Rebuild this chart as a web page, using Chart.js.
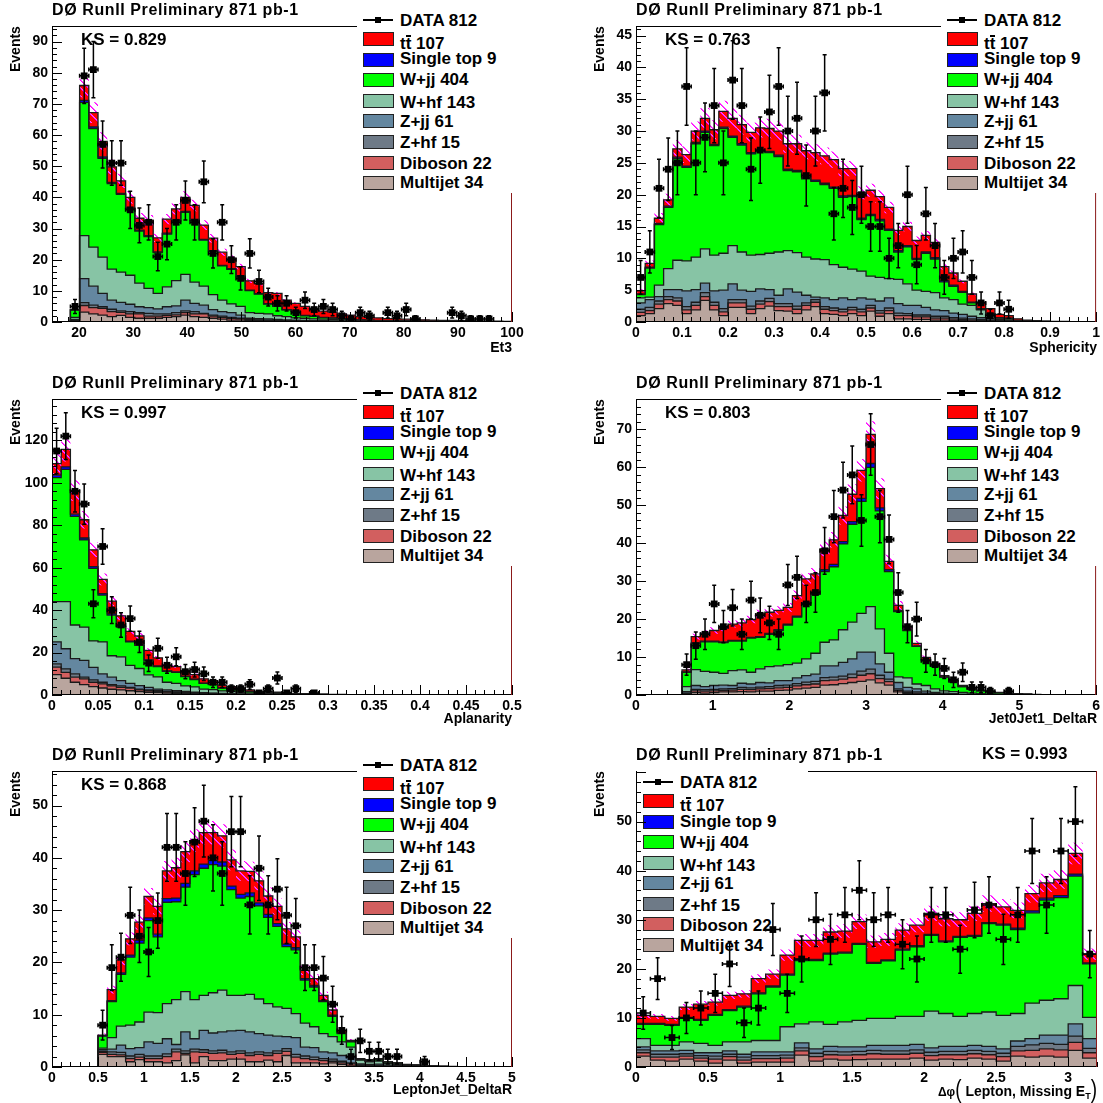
<!DOCTYPE html>
<html>
<head>
<meta charset="utf-8">
<title>DØ RunII Preliminary 871 pb-1</title>
<script src="https://cdn.jsdelivr.net/npm/chart.js@4.4.1/dist/chart.umd.min.js"></script>
<style>
  html, body { margin: 0; padding: 0; background: #fff; }
  body { width: 1103px; height: 1103px; position: relative; overflow: hidden;
         font-family: "Liberation Sans", Arial, Helvetica, sans-serif; font-weight: bold; color: #000; }
  .pad { position: absolute; height: 367px; }
  .pad canvas { position: absolute; left: 0; top: 0; z-index: 1; }
  .txt { position: absolute; white-space: nowrap; line-height: 1; z-index: 2; }
  .title { font-size: 16px; letter-spacing: 0.6px; }
  .ks { font-size: 17px; }
  .ytitle { font-size: 14px; transform: rotate(-90deg); transform-origin: left top; }
  .xtitle { font-size: 14px; }
  .legend { position: absolute; background: #fff; z-index: 3; }
  .legend.under { z-index: 0; }
  .swatch { position: absolute; box-sizing: border-box; width: 31px; height: 14px; border: 1px solid #222; }
  .ltext { position: absolute; font-size: 17px; line-height: 1; white-space: nowrap; }
  .dline { position: absolute; width: 30px; height: 1.5px; background: #000; }
  .dmark { position: absolute; width: 6px; height: 6px; background: #000; }
  .tbar { position: relative; display: inline-block; }
  .tbar::before { content: ""; position: absolute; left: 0; right: 0; top: 0; height: 2px; background: #000; }
  .paren { font-size: 19px; font-weight: normal; display: inline-block; transform: scaleY(1.35); }
  .dphi { font-size: 12px; }
  sub { font-size: 9px; vertical-align: -3px; }
</style>
</head>
<body>
<script>
// ---- samples (legend order, top of the stack first) ----
const SAMPLE_NAMES = ['tt̄', 'Single top', 'W+jj', 'W+hf', 'Z+jj', 'Z+hf', 'Diboson', 'Multijet'];
const SAMPLE_COUNTS = [107, 9, 404, 143, 61, 15, 22, 34];
const SAMPLE_COLORS = ['#ff0000', '#0000ff', '#00ff00', '#87c4a5', '#6487a0', '#6e7a87', '#d25f5f', '#b9a59e'];
const DATA_COUNT = 812;
const KS_VALUES = [0.829, 0.763, 0.997, 0.803, 0.868, 0.993];
const SYST = 0.05; // relative MC uncertainty, drawn as the hatched band

// Each *_TTBAR ... *_MULTIJET array is the height of the stack up to and
// including that sample (so *_TTBAR is the total prediction).

// ---- Et3 : 50 bins, 15..100 ----
const ET3_DATA = [0,0,5,79,81,57,51,51,36,31, 32,21,25,32,39,32,45,22,32,20, 14,22,13,8,6,6,3,7,4,5, 4,2,1,3,2,0,3,2,4,1, 0,0,0,3,2,1,1,1,0,0];
const ET3_TTBAR = [0,0,4,75.9,67.2,58,49.8,45.3,40,33.3, 32.7,27,33,36.3,40,37.4,31.1,26.9,22.4,20.5, 17.8,13.2,12.3,9.4,9.2,7,6,5,4.4,3.5, 3.2,2.6,2.2,1.7,1.5,1.3,1.1,1,0.9,0.8, 0.7,0.6,0.5,0.5,0.4,0.4,0.3,0.3,0.3,0.2];
const ET3_STOP = [0,0,3.9,71.1,62.6,53,44.8,41.3,36.5,29.5, 27.7,22.5,28.5,32.8,35.5,32.9,26.5,22.9,18.2,17.1, 14.8,10.2,9.1,5.9,5.2,4,3.5,2.1,1.9,1.5, 1.3,1.1,0.9,0.7,0.6,0.5,0.4,0.4,0.4,0.3, 0.3,0.25,0.2,0.2,0.15,0.15,0.1,0.1,0.1,0.05];
const ET3_WJJ = [0,0,3.85,70.5,62.1,52.55,44.4,40.95,36.2,29.2, 27.4,22.25,28.2,32.5,35.2,32.6,26.25,22.65,18,16.9, 14.6,10.05,8.95,5.75,5.05,3.9,3.4,2,1.8,1.4, 1.22,1.04,0.85,0.65,0.56,0.46,0.37,0.37,0.37,0.28, 0.28,0.23,0.18,0.18,0.13,0.13,0.08,0.08,0.08,0.04];
const ET3_WHF = [0,0,1.5,27.7,24,20.8,17,16,15,12.5, 10.8,9.2,11.3,13.3,15.3,12.8,11.5,8.8,7,5.8, 5,3,2.8,2.6,2,1.7,1.3,1.2,1,0.9, 0.8,0.7,0.6,0.5,0.45,0.4,0.35,0.3,0.3,0.25, 0.2,0.2,0.15,0.15,0.1,0.1,0.07,0.07,0.07,0.03];
const ET3_ZJJ = [0,0,0.8,13.9,11.5,9.2,7,6.3,5.7,4.9, 4.6,4.2,4.9,5.2,7,6,5.4,4,3.3,3, 2.2,1.2,1.1,1,0.8,0.7,0.6,0.5,0.4,0.4, 0.3,0.3,0.3,0.2,0.2,0.2,0.15,0.12,0.12,0.1, 0.1,0.08,0.08,0.06,0.05,0.05,0.04,0.04,0.04,0.02];
const ET3_ZHF = [0,0,0.5,6.2,5.4,4.9,4.1,3.6,3.3,3, 2.8,2.6,2.6,3,3.6,3.3,2.8,2.2,1.9,1.5, 1.2,0.8,0.7,0.6,0.5,0.45,0.4,0.35,0.3,0.3, 0.25,0.2,0.2,0.15,0.15,0.15,0.1,0.1,0.1,0.08, 0.06,0.05,0.05,0.04,0.03,0.03,0.02,0.02,0.02,0.01];
const ET3_DIBOSON = [0,0,0.4,5.3,4.6,4.4,3.3,3.1,2.6,2.6, 1.9,1.9,2.1,2.3,3,2.6,2.6,1.9,1.5,1.2, 1,0.7,0.6,0.5,0.45,0.4,0.35,0.3,0.25,0.25, 0.2,0.2,0.15,0.15,0.1,0.1,0.1,0.08,0.08,0.06, 0.05,0.04,0.04,0.03,0.02,0.02,0.01,0.01,0.01,0.01];
const ET3_MULTIJET = [0,0,0.2,3.2,2.6,2.2,1.7,2.1,1.5,1.2, 1.2,1.2,1.5,1.7,2.2,1.7,1.5,1.2,0.9,0.6, 0.6,0.4,0.4,0.3,0.3,0.3,0.2,0.2,0.15,0.15, 0.1,0.1,0.1,0.08,0.06,0.05,0.05,0.04,0.04,0.03];

// ---- Sphericity : 50 bins, 0..1 ----
const SPH_DATA = [7,11,21,24,25,37,25,29,34,25, 38,34,24,27,33,37,30,32,23,30, 36,17,21,18,20,15,15,10,12,20, 9,17,12,7,10,11,7,3,1,3, 2,0,0,0,0,0,0,0,0,0];
const SPH_TTBAR = [4.9,9.2,16.3,19.2,27.2,26.3,30,32,30.2,33.1, 32,31,29.8,30.5,30.4,30,28,28,26.9,26.6, 26.1,25.5,24.1,24.1,20.3,20.7,19.7,18,14.4,15, 12.8,13.6,12.5,8.7,7.7,6.4,4.4,3.1,2.1,1.2, 1,0.5,0.3,0.2,0.15,0.1,0.1,0.05,0.05,0.05];
const SPH_STOP = [4.4,8.6,15.5,18.2,25.9,24.5,28.2,30,27.9,30.6, 29.2,28,26.6,27,26.8,26.2,24,23.8,22.7,22.3, 21.8,21.2,19.8,19.9,16.3,16.9,16.1,14.6,11.2,12, 10,11,10.1,6.5,5.8,4.8,3.1,2.1,1.3,0.7, 0.6,0.25,0.15,0.1,0.1,0.05,0.05,0.03,0.03,0.03];
const SPH_WJJ = [4.3,8.45,15.3,18,25.7,24.3,28,29.8,27.7,30.4, 29,27.8,26.4,26.8,26.6,26,23.8,23.6,22.5,22.1, 21.6,21,19.6,19.7,16.1,16.7,15.9,14.4,11,11.8, 9.8,10.8,9.9,6.3,5.6,4.65,3,2,1.25,0.65, 0.55,0.22,0.12,0.08,0.08,0.04,0.04,0.02,0.02,0.02];
const SPH_WHF = [3.8,3.9,5.8,8.4,9.7,9.6,10.2,11.5,10.5,10.8, 12,11,10.5,10.6,10.8,11,11.2,10.9,10.2,9.9, 9.8,9,8.6,8.3,8,7.2,7,6.8,6.7,6, 5,4.8,4.6,3.8,3.5,2.8,2.6,1.9,1.1,0.6, 0.45,0.2,0.12,0.08,0.06,0.04,0.04,0.02,0.02,0.02];
const SPH_ZJJ = [3,3.5,4,5.1,5.1,4.9,5.1,6.1,4.9,5, 6,5,4.8,5.2,5.1,4.2,5.2,4.7,4.2,3.9, 3.8,3.5,3.8,3.5,3.8,3.6,3.3,3.8,2.9,2.6, 2.6,2.3,1.9,1.8,1.4,1.2,0.9,0.7,0.5,0.35, 0.25,0.15,0.1,0.07,0.05,0.04,0.04,0.02,0.02,0.02];
const SPH_ZHF = [2,2.3,3.3,4,3.8,2.4,3.1,4.6,3.1,2.1, 3.5,3.5,2.5,3.3,3.7,2.9,2.9,2.5,3,3.5, 2.4,2.2,2,2.3,2,2.6,1.8,2.2,1.4,1.3, 1.1,1.1,0.9,0.9,0.7,0.6,0.5,0.4,0.3,0.25, 0.15,0.1,0.05];
const SPH_DIBOSON = [1.5,1.8,2.8,3.5,3.3,1.9,2.6,4,2.6,1.6, 3,3,2,2.8,3.2,2.4,2.4,2,2.6,3.1, 2,1.8,1.6,1.9,1.6,2.2,1.4,1.8,1,1, 0.8,0.8,0.6,0.6,0.45,0.4,0.3,0.25,0.2,0.15, 0.1,0.05];
const SPH_MULTIJET = [1,1.3,2.1,2.9,2.6,1.3,1.9,3.4,1.9,1, 2.3,2.3,1.3,2.1,2.5,1.8,1.7,1.3,1.9,2.4, 1.3,1.2,1,1.3,1,1.7,0.9,1.3,0.5,0.5, 0.4,0.4,0.3,0.3,0.2,0.2,0.15,0.1,0.1,0.1, 0.05];

// ---- Aplanarity : 50 bins, 0..0.5 ----
const APL_DATA = [115,122,96,90,43,70,40,33,36,25, 15,22,14,18,11,12,10,6,6,3, 3,5,1,3,8,1,3,0,1,0];
const APL_TTBAR = [109,115.8,96.4,82.6,68.4,54.5,44.2,37.3,30,27.8, 21,17.5,13.9,13.4,11.5,9.6,7.6,6.8,4.7,3.9, 3.3,2.4,1.7,1.7,1.3,1.1,0.8,0.6,0.5,0.4, 0.3,0.25,0.2,0.15,0.12,0.1,0.08,0.06,0.05,0.04, 0.03];
const APL_STOP = [103.6,107.5,85.2,74,60.5,47.8,38.2,32.5,25.4,23.8, 16.6,13.7,11.4,10.9,8.9,7.45,5.6,5,3.38,2.86, 2.45,1.74,1.33,1.33,0.92,0.82,0.57,0.42,0.36,0.29, 0.21,0.18,0.15,0.11,0.09,0.08,0.06,0.05,0.04,0.03];
const APL_WJJ = [102.4,106.3,84.2,73.1,59.7,47.1,37.6,32,25,23.4, 16.3,13.4,11.2,10.7,8.7,7.3,5.5,4.9,3.3,2.8, 2.4,1.7,1.3,1.3,0.9,0.8,0.55,0.4,0.35,0.28, 0.2,0.17,0.14,0.1,0.08,0.07,0.05,0.04,0.03,0.02];
const APL_WHF = [44,44,33,32,25.5,25,18.5,18,14,12.5, 9.5,8.5,6,5.5,4.3,3.8,2.8,2.5,1.9,1.6, 1.2,1,0.8,0.7,0.5,0.4,0.3,0.25,0.2,0.15, 0.1,0.08,0.06,0.05,0.04,0.03,0.02];
const APL_ZJJ = [25,21.8,17.1,16.3,13,10,8.4,6.8,5.5,4.4, 3.6,2.8,2.4,2,1.7,1.4,1.1,0.9,0.8,0.6, 0.5,0.4,0.3,0.25,0.2,0.15,0.1,0.08,0.06,0.05, 0.04,0.03,0.02];
const APL_ZHF = [14.7,12.3,10,8.4,7.1,6,4.9,4.3,3.6,2.8, 2.4,2,1.7,1.5,1.3,1.1,0.9,0.7,0.6,0.5, 0.4,0.3,0.25,0.2,0.15,0.1,0.08,0.06,0.05,0.04, 0.03,0.02];
const APL_DIBOSON = [13.1,10.7,8.4,7.6,6,5.2,4.3,3.6,3.2,2.4, 2,1.7,1.4,1.2,1,0.8,0.7,0.5,0.45,0.4, 0.3,0.25,0.2,0.15,0.12,0.08,0.06,0.05,0.04,0.03, 0.02];
const APL_MULTIJET = [9.6,7.9,6,4.9,3.9,3.3,2.7,2.4,2,1.6, 1.3,1.1,0.9,0.7,0.6,0.5,0.4,0.3,0.25,0.2, 0.15,0.12,0.1,0.08,0.06,0.05,0.04,0.03,0.02];

// ---- Jet0Jet1_DeltaR : 50 bins, 0..6 ----
const JJDR_DATA = [0,0,0,0,0,8,13,16,24,18, 23,16,25,21,19,16,29,31,24,27, 38,47,54,58,46,66,47,41,27,18, 20,9,8,7,4,6,2,2,1,0, 1];
const JJDR_TTBAR = [0,0,0,0,0,6.6,15.4,16.3,17,17.7, 18.7,19,19.9,21.4,21.8,22.3,23.1,26.2,30.6,31.9, 38.5,40.9,47.3,52.9,59.2,68.7,54.4,35.2,23.6,18.1, 13.6,9.9,8.2,5.1,3.8,2.5,1.8,1.3,1,0.7, 0.5,0.35,0.25,0.15,0.1,0.05];
const JJDR_STOP = [0,0,0,0,0,6.1,13.7,14.2,14.2,14, 14.4,14.4,15.2,15.4,16.2,17.25,18.65,20.8,24.3,26.85, 33,34.4,40.4,45.7,51.8,61,49.3,33,22.3,17.2, 12.95,9.3,7.7,4.75,3.45,2.22,1.52,1.12,0.81,0.56, 0.4,0.28,0.2,0.12,0.08,0.04];
const JJDR_WJJ = [0,0,0,0,0,6,13.5,14,14,13.8, 14.2,14.2,15,15.2,16,17,18.4,20.5,24,26.5, 32.5,33.8,39.8,45,51,60,48.5,32.5,22,17, 12.8,9.2,7.6,4.7,3.4,2.2,1.5,1.1,0.8,0.55, 0.4,0.28,0.2,0.12,0.08,0.04];
const JJDR_WHF = [0,0,0,0,0,2.2,6.7,6.2,6,5.7, 6.4,6.6,6,6.9,7.5,7.7,8,8.4,9.5,11, 13.9,14.5,17.2,19.2,21.5,23.3,17.4,11,4.8,4.5, 2.9,2.5,1.6,1.1,0.9,0.7,0.5,0.35,0.25,0.15, 0.1,0.05];
const JJDR_ZJJ = [0,0,0,0,0,0.9,2.5,2.2,2.5,2.6, 2.5,3.1,2.9,3.3,3.2,3.8,3.8,4.5,5.1,5.5, 7.7,7.7,8.6,9.5,11.3,11.3,8.2,6,3.3,2, 1.6,1,0.7,0.5,0.35,0.25,0.15,0.1,0.05];
const JJDR_ZHF = [0,0,0,0,0,0.5,1.5,1.4,1.5,1.6, 1.7,2,1.9,2.1,2.2,2.5,2.6,3,3.4,3.6, 4.6,4.7,5,5.5,6.3,6.8,5.2,4.2,1.6,1, 0.8,0.5,0.35,0.25,0.15,0.1];
const JJDR_DIBOSON = [0,0,0,0,0,0.4,1.1,1,1.1,1.2, 1.3,1.5,1.4,1.6,1.7,1.9,2,2.4,2.7,2.9, 3.8,3.9,4.2,4.6,5.2,5.6,4.3,3.5,1.2,0.7, 0.5,0.3,0.2,0.15,0.1];
const JJDR_MULTIJET = [0,0,0,0,0,0.3,0.6,0.5,0.6,0.8, 0.8,0.9,0.8,1,1,1.2,1.3,1.6,1.8,2, 2.6,2.7,3,3.3,3.6,4,3.2,2.6,0.8,0.4, 0.3,0.2,0.1];

// ---- LeptonJet_DeltaR : 50 bins, 0..5 ----
const LJDR_DATA = [0,0,0,0,0,8,19,21,29,25, 22,28,42,42,37,43,47,40,37,45, 45,31,38,31,34,29,27,19,19,17, 12,7,2,5,3,3,2,2,0,0, 1];
const LJDR_TTBAR = [0,0,0,0,0,6.1,14.8,20.5,24.5,27.7, 32.6,30.7,37.5,38.1,41.2,43.3,44.8,44.8,44.2,39.6, 37.5,37.4,35.6,32.7,30.7,26.4,24.9,18.5,16.9,13.7, 10.9,7,5.1,1.6,1.4,1.6,1,0.8,0.5,0.4, 0.3,0.2,0.15,0.1,0.05];
const LJDR_STOP = [0,0,0,0,0,6,12.7,18,21.4,24.2, 28.5,25.4,32.2,32.3,35.1,37.5,38.8,39.5,39.2,34.6, 33,33.3,31.4,29.2,27.4,23.5,22.8,16.9,15.6,12.7, 9.9,6.5,4.9,1.45,1.25,1.45,0.98,0.77,0.46,0.36, 0.26,0.16,0.1,0.07,0.03];
const LJDR_WJJ = [0,0,0,0,0,5.9,12.5,17.7,21,23.7, 28,24.9,31.5,31.6,34.4,36.8,38,38.7,38.4,33.9, 32.3,32.6,30.8,28.6,26.9,23,22.4,16.6,15.3,12.5, 9.7,6.4,4.8,1.4,1.2,1.4,0.95,0.75,0.45,0.35, 0.25,0.15,0.1,0.07,0.03];
const LJDR_WHF = [0,0,0,0,0,3.6,5.6,7.8,8,8.6, 10.5,10.4,12.1,12.9,14.4,12.9,13.7,14.2,14.7,13.7, 13.7,13.9,13,12.1,11.5,11.2,10.2,8.4,7.7,6.4, 5.8,4.8,3.8,1.3,1,1.15,0.65,0.5,0.3,0.2, 0.15,0.1,0.05];
const LJDR_ZJJ = [0,0,0,0,0,3.3,3.4,4.2,3.5,3.7, 4.8,4.5,5.4,4.3,6.7,5.4,7,6.5,6.7,6.9, 7,6.7,6.4,6.1,5.9,5.8,5.6,3.8,3.7,2.9, 2.7,2.2,1.9,0.6,0.5,0.55,0.35,0.25,0.15,0.1, 0.05];
const LJDR_ZHF = [0,0,0,0,0,3,2.9,2.8,2.1,2.4, 2.1,2.1,2.5,3.4,3.1,3.4,3.3,3.1,3.2,2.9, 3.1,2.7,2.9,2.7,3.1,3.5,2.4,2.1,1.9,1.6, 1.5,1.1,0.8,0.4,0.3,0.3,0.15];
const LJDR_DIBOSON = [0,0,0,0,0,2.8,2.4,2.3,1.6,1.9, 1.6,1.6,2,2.9,2.6,2.9,2.8,2.6,2.7,2.4, 2.6,2.2,2.4,2.2,2.6,3,1.9,1.6,1.4,1.2, 1.1,0.8,0.6,0.3,0.2,0.2,0.1];
const LJDR_MULTIJET = [0,0,0,0,0,2.4,2,2,1,1.4, 1,1,0.8,1.2,2.3,0.8,2,1.2,1.2,1.5, 1.5,1,1,1.3,1,2.2,0.8,0.8,0.8,0.6, 0.8,0.5,0.2,0.1];

// ---- Δφ(lepton, missing ET) : 32 bins, 0..3.2 ----
const DPHI_DATA = [11,18,6,10,12,15,21,9,12,28, 15,22,30,26,31,36,30,31,25,22, 31,31,24,32,33,26,31,44,33,44, 50,23];
const DPHI_TTBAR = [10.5,10.3,9.9,12.2,12.8,13.2,14.6,14.9,18,18.9, 22.8,25.8,25.8,27.5,27.7,29.6,25.5,26,27.9,28.9, 31.3,30.2,30,31.3,33.3,32.6,31.9,35.3,37.5,38.2, 43.5,23];
const DPHI_STOP = [8.9,8.9,8.7,10.1,9.7,10.7,11.7,12.4,15.1,16.5, 18.9,21.9,21.9,23.2,23.4,25.2,21.3,21.8,24,24.7, 27,25.7,26.6,26.8,29.4,29.1,28.3,31.8,34.4,34.9, 39.3,21.2];
const DPHI_WJJ = [8.7,8.7,8.5,9.9,9.5,10.5,11.5,12.2,14.9,16.3, 18.7,21.7,21.7,23,23.2,25,21.1,21.6,23.8,24.5, 26.8,25.5,26.4,26.6,29.2,28.9,28,31.4,34,34.5, 38.9,21];
const DPHI_WHF = [5.8,4.4,4.4,5.1,4.8,4.4,5.1,5.1,5.4,5.4, 8.2,8.8,9.2,8.7,9.2,9.5,9.9,9.9,10.3,10.3, 11.4,10.9,10.3,10.9,11.2,10.5,10.9,13,13.6,13.9, 16.6,10.1];
const DPHI_ZJJ = [4.1,3.3,3.3,3.4,2.9,2.9,3.3,2.6,3.1,3.1, 3.1,4.9,3.7,4.2,4.1,4.1,4.4,4.4,4.4,4.6, 3.9,4.2,4.2,4.4,4.2,3.7,5.3,5.8,6.5,6.5, 8.8,5.8];
const DPHI_ZHF = [3.5,2.6,2.6,2.7,2.3,2.2,2.6,2,2.3,2.3, 2.4,3.9,2.8,3.2,3.1,3.2,3.4,3.3,3.3,3.5, 3,3.2,3.2,3.4,3.2,2.8,4.2,4.5,4.8,4.6, 6.3,3.8];
const DPHI_DIBOSON = [2.9,2,2,2.2,1.8,1.6,2.1,1.4,1.7,1.7, 1.8,3.3,2.1,2.5,2.4,2.5,2.7,2.6,2.6,2.8, 2.3,2.5,2.5,2.7,2.5,2.1,3.3,3.4,3.7,3.5, 5,2.9];
const DPHI_MULTIJET = [2.2,1.4,1.2,1.6,1.2,0.8,1.4,0.8,1,1, 1,2.4,1.2,1.6,1.4,1.5,1.6,1.6,1.6,1.8, 1.4,1.6,1.5,1.8,1.6,1.2,2.2,2,2.2,2, 3.4,1.8];

// ---- pad layout ----
const ROW_LEGEND = { box: [357, 0, null, 193], under: false, sx: 363, tx: 400, dataY: 20,
  rows: [39, 59.5, 80, 100.5, 121, 142, 162.5, 183], texts: [43.5, 58.5, 79, 102.5, 121, 142.5, 163.5, 182.5] };
const IN_LEGEND = { box: [52, 24, 172, 190], under: true, sx: 59, tx: 96, dataY: 37,
  rows: [56, 76.5, 97.3, 118, 138, 158.5, 179.3, 200], texts: [60.5, 76, 97.3, 120, 138, 160.5, 180.5, 200] };

const PADS = [
  { left: 0, top: 0, width: 551, frameRight: 512, lo: 15, w: 1.7, n: 50, xMin: 15, xMax: 100, yMax: 95,
    xStep: 10, xMinor: 2, yStep: 10, yMinor: 2, xTitle: 'Et3', xTitleY: 347,
    data: ET3_DATA, stack: [ET3_TTBAR, ET3_STOP, ET3_WJJ, ET3_WHF, ET3_ZJJ, ET3_ZHF, ET3_DIBOSON, ET3_MULTIJET] },
  { left: 584, top: 0, width: 519, frameRight: 513, lo: 0, w: 0.02, n: 50, xMin: 0, xMax: 1, yMax: 46.5,
    xStep: 0.1, xMinor: 0.02, yStep: 5, yMinor: 1, xTitle: 'Sphericity', xTitleY: 347,
    data: SPH_DATA, stack: [SPH_TTBAR, SPH_STOP, SPH_WJJ, SPH_WHF, SPH_ZJJ, SPH_ZHF, SPH_DIBOSON, SPH_MULTIJET] },
  { left: 0, top: 373, width: 551, frameRight: 512, lo: 0, w: 0.01, n: 50, xMin: 0, xMax: 0.5, yMax: 139.5,
    xStep: 0.05, xMinor: 0.01, yStep: 20, yMinor: 4, xTitle: 'Aplanarity', xTitleY: 345,
    data: APL_DATA, stack: [APL_TTBAR, APL_STOP, APL_WJJ, APL_WHF, APL_ZJJ, APL_ZHF, APL_DIBOSON, APL_MULTIJET] },
  { left: 584, top: 373, width: 519, frameRight: 513, lo: 0, w: 0.12, n: 50, xMin: 0, xMax: 6, yMax: 78,
    xStep: 1, xMinor: 0.2, yStep: 10, yMinor: 2, xTitle: 'Jet0Jet1_DeltaR', xTitleY: 345,
    data: JJDR_DATA, stack: [JJDR_TTBAR, JJDR_STOP, JJDR_WJJ, JJDR_WHF, JJDR_ZJJ, JJDR_ZHF, JJDR_DIBOSON, JJDR_MULTIJET] },
  { left: 0, top: 745, width: 551, frameRight: 512, lo: 0, w: 0.1, n: 50, xMin: 0, xMax: 5, yMax: 56.6,
    xStep: 0.5, xMinor: 0.1, yStep: 10, yMinor: 2, xTitle: 'LeptonJet_DeltaR', xTitleY: 344,
    data: LJDR_DATA, stack: [LJDR_TTBAR, LJDR_STOP, LJDR_WJJ, LJDR_WHF, LJDR_ZJJ, LJDR_ZHF, LJDR_DIBOSON, LJDR_MULTIJET] },
  { left: 584, top: 745, width: 519, frameRight: 513, lo: 0, w: 0.1, n: 32, xMin: 0, xMax: 3.2, yMax: 60.3,
    xStep: 0.5, xMinor: 0.1, yStep: 10, yMinor: 2, xTitleY: 342, legend: IN_LEGEND, ksInTitle: true, topFrom: 224,
    xTitle: '<span class="dphi">Δφ</span><span class="paren">(</span> Lepton, Missing E<sub>T</sub><span class="paren">)</span>',
    data: DPHI_DATA, stack: [DPHI_TTBAR, DPHI_STOP, DPHI_WJJ, DPHI_WHF, DPHI_ZJJ, DPHI_ZHF, DPHI_DIBOSON, DPHI_MULTIJET] }
];

const TICK_FONT = { family: 'Liberation Sans', size: 14, weight: 'bold' };
const fmt = v => String(Number(v.toFixed(4)));

// sparse magenta hatch for the MC uncertainty band: a diagonal with a soft edge
function makeHatch() {
  const c = document.createElement('canvas');
  c.width = 8; c.height = 8;
  const g = c.getContext('2d');
  for (let i = 0; i < 8; i++) {
    g.fillStyle = '#ff55ff';
    g.fillRect((i + 1) % 8, i, 1, 1);
    g.fillStyle = '#ff00ff';
    g.fillRect(i, i, 1, 1);
  }
  return c;
}
const HATCH_TILE = makeHatch();

// stack levels must never dip below the level underneath
function clampStack(stack, n) {
  const out = new Array(stack.length);
  let below = new Array(n).fill(0);
  for (let k = stack.length - 1; k >= 0; k--) {
    const cur = [];
    for (let i = 0; i < n; i++) cur.push(Math.max(stack[k][i] || 0, below[i]));
    out[k] = cur;
    below = cur;
  }
  return out;
}

// histogram outline: one point per bin edge, drawn with stepped lines
function stepPoints(vals, lo, w, n) {
  const pts = [{ x: lo, y: 0 }];
  for (let i = 0; i < n; i++) pts.push({ x: lo + i * w, y: vals[i] || 0 });
  pts.push({ x: lo + n * w, y: vals[n - 1] || 0 });
  pts.push({ x: lo + n * w, y: 0 });
  return pts;
}

const errorBars = {
  id: 'errorBars',
  afterDatasetsDraw(chart) {
    const { ctx, chartArea: a, scales: { x, y } } = chart;
    ctx.save();
    ctx.beginPath();
    ctx.rect(a.left, a.top, a.right - a.left, a.bottom - a.top);
    ctx.clip();
    ctx.strokeStyle = '#000';
    ctx.lineWidth = 1.5;
    ctx.beginPath();
    for (const p of chart.data.datasets[0].data) {
      const e = Math.sqrt(p.y);
      const px = x.getPixelForValue(p.x), py = y.getPixelForValue(p.y);
      const xl = x.getPixelForValue(p.x - p.hw), xr = x.getPixelForValue(p.x + p.hw);
      const yt = y.getPixelForValue(p.y + e), yb = y.getPixelForValue(Math.max(p.y - e, 0));
      ctx.moveTo(xl, py); ctx.lineTo(xr, py);
      ctx.moveTo(px, yt); ctx.lineTo(px, yb);
      ctx.moveTo(xl, py - 2); ctx.lineTo(xl, py + 2);
      ctx.moveTo(xr, py - 2); ctx.lineTo(xr, py + 2);
      ctx.moveTo(px - 2, yt); ctx.lineTo(px + 2, yt);
      ctx.moveTo(px - 2, yb); ctx.lineTo(px + 2, yb);
    }
    ctx.stroke();
    ctx.restore();
  }
};

// ROOT-style frame with ticks pointing inwards
const frame = {
  id: 'frame',
  afterDraw(chart, args, o) {
    const { ctx, chartArea: a, scales: { x, y } } = chart;
    ctx.save();
    ctx.lineWidth = 1;
    ctx.strokeStyle = '#000';
    ctx.beginPath();
    ctx.moveTo(a.left + 0.5, a.top); ctx.lineTo(a.left + 0.5, a.bottom);
    ctx.moveTo(a.left, a.bottom - 0.5); ctx.lineTo(a.right, a.bottom - 0.5);
    ctx.moveTo(Math.max(a.left, o.topFrom || 0), a.top + 0.5); ctx.lineTo(a.right, a.top + 0.5);

    const tick = (scale, lo, hi, minor, major, horizontal) => {
      const ratio = Math.round(major / minor);
      const i0 = Math.ceil(lo / minor - 1e-6), i1 = Math.floor(hi / minor + 1e-6);
      for (let i = i0; i <= i1; i++) {
        const len = i % ratio === 0 ? 10 : 5;
        const pv = Math.round(scale.getPixelForValue(i * minor)) + 0.5;
        if (horizontal) { ctx.moveTo(pv, a.bottom); ctx.lineTo(pv, a.bottom - len); }
        else { ctx.moveTo(a.left, pv); ctx.lineTo(a.left + len, pv); }
      }
    };
    tick(x, o.xMin, o.xMax, o.xMinor, o.xStep, true);
    tick(y, 0, o.yMax, o.yMinor, o.yStep, false);
    ctx.stroke();

    ctx.strokeStyle = '#8b1a1a';
    ctx.beginPath();
    ctx.moveTo(a.right - 0.5, a.top); ctx.lineTo(a.right - 0.5, a.bottom);
    ctx.stroke();
    ctx.restore();
  }
};

function legendHtml(spec) {
  const bx = spec.box[0], by = spec.box[1];
  let h = '';
  h += `<div class="dline" style="left:${spec.sx - bx}px;top:${spec.dataY - by - 0.75}px"></div>`;
  h += `<div class="dmark" style="left:${spec.sx - bx + 12}px;top:${spec.dataY - by - 3}px"></div>`;
  h += `<div class="ltext" style="left:${spec.tx - bx}px;top:${spec.dataY - by - 8.3}px">DATA ${DATA_COUNT}</div>`;
  SAMPLE_NAMES.forEach((name, i) => {
    const label = i === 0 ? 't<span class="tbar">t</span>' : name;
    h += `<div class="swatch" style="left:${spec.sx - bx}px;top:${spec.rows[i] - by - 7}px;background:${SAMPLE_COLORS[i]}"></div>`;
    h += `<div class="ltext" style="left:${spec.tx - bx}px;top:${spec.texts[i] - by - 8.3}px">${label} ${SAMPLE_COUNTS[i]}</div>`;
  });
  return h;
}

function buildPad(p, idx) {
  const pad = document.createElement('div');
  pad.className = 'pad';
  pad.style.left = p.left + 'px';
  pad.style.top = p.top + 'px';
  pad.style.width = p.width + 'px';
  document.body.appendChild(pad);

  const cv = document.createElement('canvas');
  cv.width = p.width; cv.height = 367;
  pad.appendChild(cv);
  const hatch = cv.getContext('2d').createPattern(HATCH_TILE, 'repeat');

  const ks = 'KS = ' + KS_VALUES[idx].toFixed(3);
  let html = `<div class="txt title" style="left:52px;top:2px">DØ RunII Preliminary 871 pb-1</div>`;
  if (p.ksInTitle) html += `<div class="txt ks" style="left:398px;top:0px">${ks}</div>`;
  else html += `<div class="txt ks" style="left:81px;top:30.5px">${ks}</div>`;
  html += `<div class="txt ytitle" style="left:8px;top:72px">Events</div>`;
  html += `<div class="txt xtitle" style="right:${p.width - p.frameRight}px;top:${p.xTitleY - 7}px">${p.xTitle}</div>`;
  const spec = p.legend || ROW_LEGEND;
  const bw = spec.box[2] || (p.width - spec.box[0]);
  html += `<div class="legend${spec.under ? ' under' : ''}" style="left:${spec.box[0]}px;top:${spec.box[1]}px;width:${bw}px;height:${spec.box[3]}px">${legendHtml(spec)}</div>`;
  pad.insertAdjacentHTML('beforeend', html);

  const levels = clampStack(p.stack, p.n);
  const total = levels[0];

  const points = [];
  p.data.forEach((c, i) => {
    if (c > 0) points.push({ x: p.lo + (i + 0.5) * p.w, y: c, hw: p.w / 2 });
  });

  const datasets = [
    { label: 'DATA', data: points, showLine: false, pointStyle: 'rect', pointRadius: 4.8,
      pointBackgroundColor: '#000', pointBorderWidth: 0, borderColor: '#000' },
    { label: 'band up', data: stepPoints(total.map(v => v * (1 + SYST)), p.lo, p.w, p.n),
      stepped: true, fill: '+1', backgroundColor: hatch, borderColor: 'transparent', borderWidth: 0, pointRadius: 0 },
    { label: 'band down', data: stepPoints(total.map(v => v * (1 - SYST)), p.lo, p.w, p.n),
      stepped: true, fill: false, borderColor: 'transparent', borderWidth: 0, pointRadius: 0 }
  ];
  levels.forEach((lv, k) => {
    datasets.push({
      label: SAMPLE_NAMES[k],
      data: stepPoints(lv, p.lo, p.w, p.n),
      stepped: true,
      fill: k === levels.length - 1 ? 'origin' : '+1',
      backgroundColor: SAMPLE_COLORS[k],
      borderColor: '#1a1a1a',
      borderWidth: 1.3,
      pointRadius: 0
    });
  });

  // no label right at the top edge of the frame
  const yLabel = v => (v > p.yMax * 0.99 ? '' : fmt(v));

  new Chart(cv, {
    type: 'line',
    data: { datasets },
    options: {
      responsive: false,
      animation: false,
      events: [],
      layout: { padding: { top: 26, right: p.width - p.frameRight, left: 0, bottom: 0 } },
      plugins: {
        legend: { display: false },
        tooltip: { enabled: false },
        filler: { propagate: false, drawTime: 'beforeDatasetsDraw' },
        frame: { xMin: p.xMin, xMax: p.xMax, xStep: p.xStep, xMinor: p.xMinor,
                 yMax: p.yMax, yStep: p.yStep, yMinor: p.yMinor, topFrom: p.topFrom ? p.topFrom : 0 }
      },
      scales: {
        x: {
          type: 'linear', min: p.xMin, max: p.xMax,
          afterFit: s => { s.height = 45; },
          grid: { display: false, drawTicks: false },
          border: { display: false },
          ticks: { stepSize: p.xStep, autoSkip: false, maxRotation: 0, includeBounds: false,
                   padding: 3, color: '#000', font: TICK_FONT, callback: fmt }
        },
        y: {
          type: 'linear', min: 0, max: p.yMax,
          afterFit: s => { s.width = 52; },
          grid: { display: false, drawTicks: false },
          border: { display: false },
          ticks: { stepSize: p.yStep, autoSkip: false, includeBounds: false,
                   padding: 4, color: '#000', font: TICK_FONT, callback: yLabel }
        }
      }
    },
    plugins: [errorBars, frame]
  });
}

PADS.forEach(buildPad);
</script>
</body>
</html>
